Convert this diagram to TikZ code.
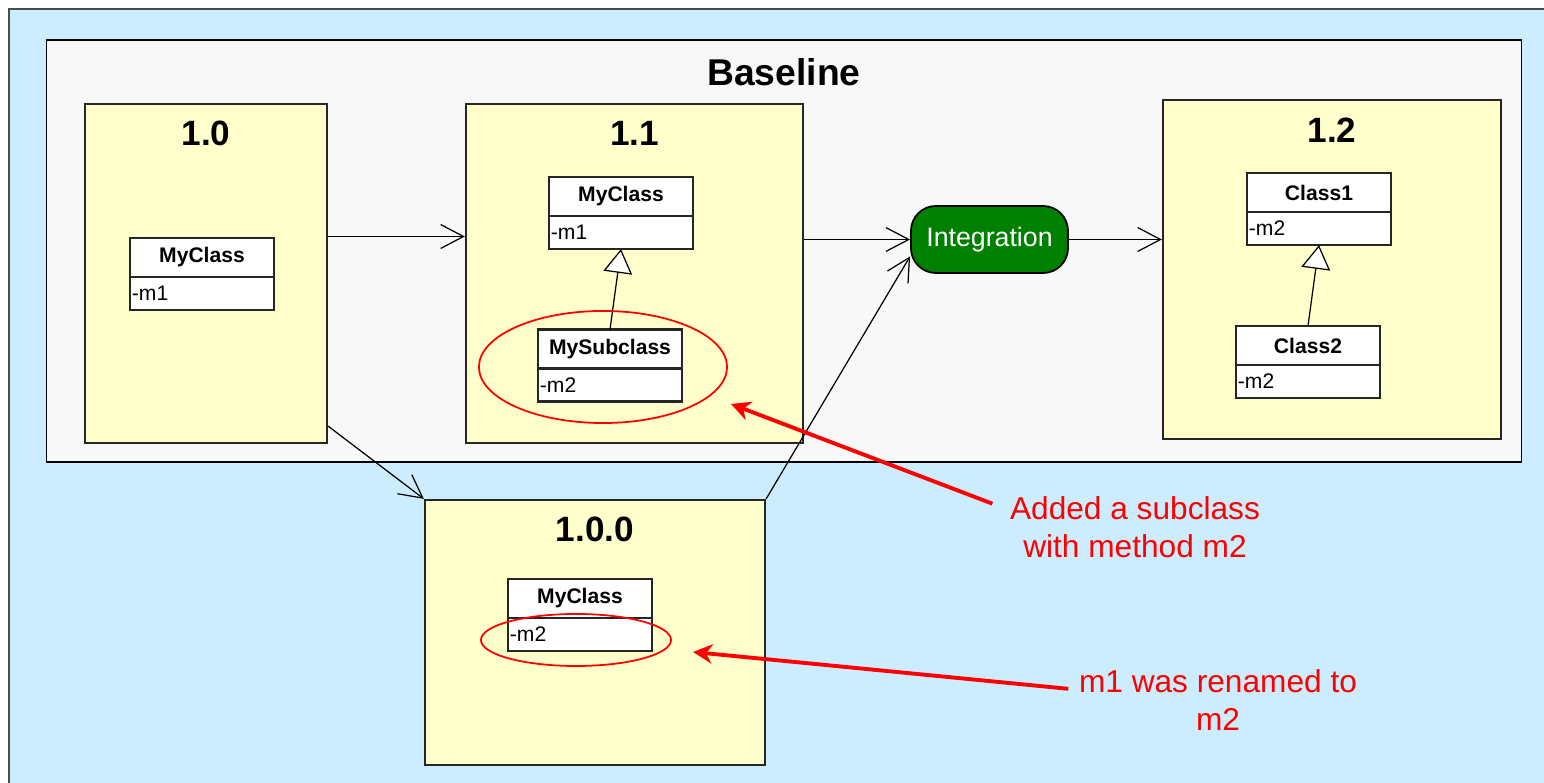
\documentclass[tikz,border=0pt]{standalone}
\usepackage{fontspec}
\setmainfont{Liberation Sans}
\usetikzlibrary{calc,positioning,shapes.geometric,arrows.meta}
\definecolor{skyblue}{HTML}{CCECFF}
\definecolor{paleyellow}{HTML}{FFFFCC}
\definecolor{basegray}{HTML}{F8F8F8}
\definecolor{integgreen}{HTML}{008000}
\tikzset{
  version/.style={draw=black!85, line width=0.6pt, fill=paleyellow, inner sep=0pt},
  vtitle/.style={font=\fontsize{10}{12}\selectfont\bfseries},
  clshead/.style={draw=black!85, line width=0.6pt, fill=white, outer sep=0pt, minimum width=1.44cm, minimum height=0.39cm, inner sep=0pt, font=\fontsize{6}{7}\selectfont\bfseries},
  clsbody/.style={draw=black!85, line width=0.6pt, fill=white, outer sep=0pt, minimum height=0.33cm, text width=1.40cm, inner xsep=0.02cm, inner ysep=0pt, align=left, font=\fontsize{6}{7}\selectfont},
  hilite/.style={draw=red, line width=0.5pt, ellipse, inner sep=0pt},
  note/.style={text=red, align=center, inner sep=0pt, font=\fontsize{9}{10.8}\selectfont},
  flow/.style={-{Straight Barb[length=6.5pt,width=6.8pt]}, line width=0.35pt},
  inherit/.style={-{Triangle[length=6.8pt,width=8.2pt,fill=white]}, line width=0.35pt},
  remark/.style={-{Stealth[length=5.5pt,width=5.5pt]}, red, line width=1.1pt}
}
\begin{document}
\begin{tikzpicture}[x=0.01cm, y=-0.01cm]
\useasboundingbox (0,0) rectangle (1544,783);
\filldraw[fill=skyblue, draw=black!70, line width=0.5pt] (9,9) rectangle (1570,800);
\node[draw=black, line width=0.5pt, fill=basegray, minimum width=14.74cm, minimum height=4.22cm] (base) at (784,251) {};
\node[font=\fontsize{10.6}{13}\selectfont\bfseries] (basetitle) at (784,72) {Baseline};

% versions
\node[version, minimum width=2.42cm, minimum height=3.39cm] (v10) at (206,273.5) {};
\node[version, minimum width=3.37cm, minimum height=3.39cm] (v11) at (634.5,273.5) {};
\node[version, minimum width=3.38cm, minimum height=3.39cm] (v12) at (1332,269.5) {};
\node[version, minimum width=3.40cm, minimum height=2.65cm] (v100) at (595,632.5) {};
\foreach \ver/\lab in {v10/1.0, v11/1.1, v12/1.2, v100/1.0.0}
  {\node[vtitle] (\ver-t) at ($(\ver.north)+(0,31)$) {\lab};}

% classes
\node[clshead] (c10) at (202,257.5) {MyClass};
\node[clsbody, below=0pt of c10] (c10b) {-m1};
\node[clshead] (c11) at (621,196.5) {MyClass};
\node[clsbody, below=0pt of c11] (c11b) {-m1};
\node[clshead] (s11) at (610,349) {MySubclass};
\node[clsbody, below=0pt of s11] (s11b) {-m2};
\node[clshead] (k1) at (1319,192.5) {Class1};
\node[clsbody, below=0pt of k1] (k1b) {-m2};
\node[clshead] (k2) at (1308,345.5) {Class2};
\node[clsbody, below=0pt of k2] (k2b) {-m2};
\node[clshead] (c100) at (580,598.5) {MyClass};
\node[clsbody, below=0pt of c100] (c100b) {-m2};
\draw[inherit] (s11.north) -- (c11b.south);
\draw[inherit] (k2.north) -- (k1b.south);

\node[draw=black, line width=0.5pt, fill=integgreen, text=white, rounded corners=0.25cm, minimum width=1.57cm, minimum height=0.67cm, font=\fontsize{7.6}{10}\selectfont] (integ) at (989.5,239.5) {Integration};

\coordinate (o10) at ($(v10.east)+(0,-37)$);
\coordinate (i11) at (v11.west |- o10);
\coordinate (o11) at (v11.east |- integ.west);
\coordinate (i12) at (v12.west |- integ.east);
\coordinate (d10) at ($(v10.south east)+(0,-18)$);
\foreach \i/\j in {
  o10/i11,
  o11/integ.west,
  integ.east/i12,
  d10/v100.north west,
  v100.north east/integ.192
  }{\path[flow] (\i) edge (\j);}

% remarks
\node[hilite, minimum width=2.48cm, minimum height=1.12cm] (e11) at (603,367) {};
\node[hilite, minimum width=1.90cm, minimum height=0.52cm] (e100) at (576,640) {};
\node[note] (note1) at (1135,527) {Added a subclass\\with method m2};
\node[note] (note2) at (1218,700) {m1 was renamed to\\m2};
\coordinate (p11) at (731,404);
\coordinate (p100) at (693,652);
\draw[remark] ([shift={(-17,8)}]note1.north west) -- (p11);
\draw[remark] ([shift={(-10,20)}]note2.north west) -- (p100);
\end{tikzpicture}
\end{document}
